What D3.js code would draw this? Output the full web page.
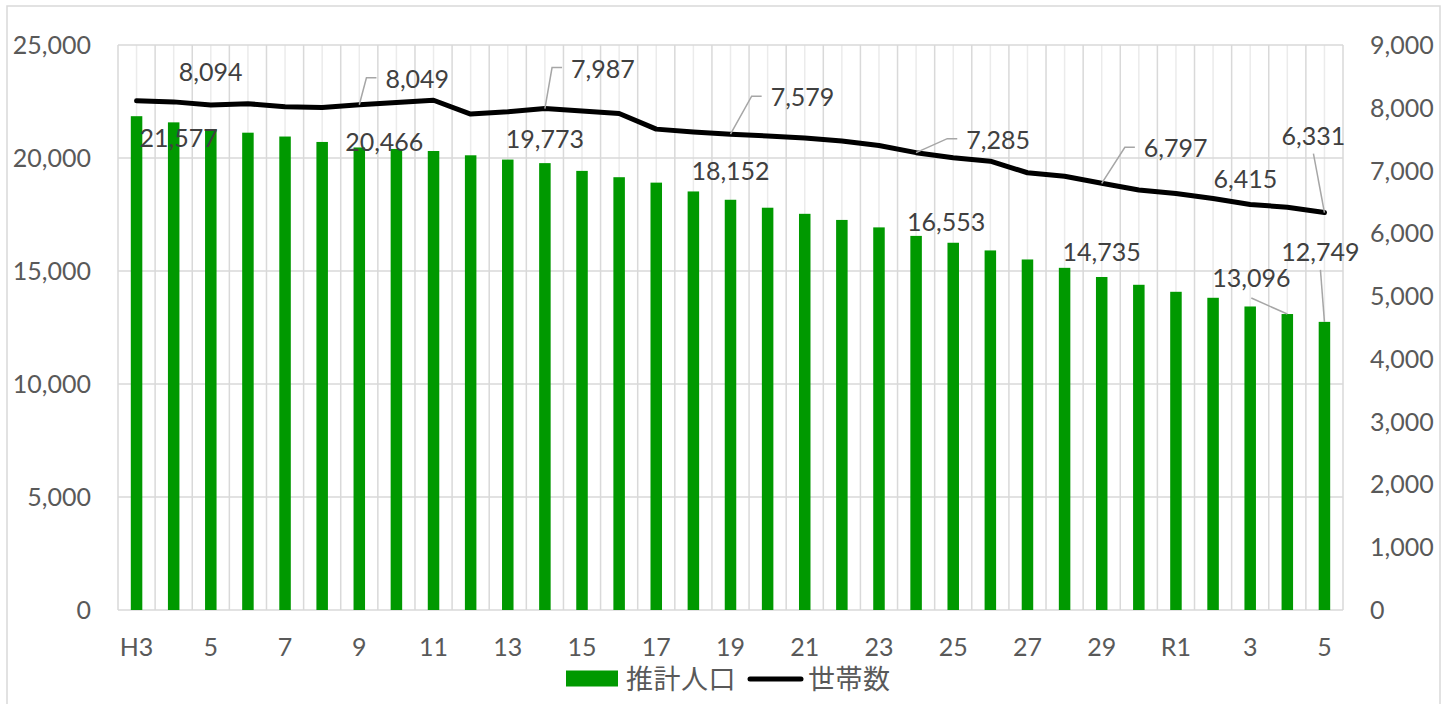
<!DOCTYPE html>
<html><head><meta charset="utf-8">
<script src="https://cdn.jsdelivr.net/npm/d3@7"></script>
<style>
html,body{margin:0;padding:0;background:#fff;}
svg{display:block;}
</style></head>
<body>
<svg id="chart" width="1456" height="704"></svg>
<script>
// ---- data ----
const categories = ["H3","4","5","6","7","8","9","10","11","12","13","14","15","16","17","18","19","20","21","22","23","24","25","26","27","28","29","30","R1","2","3","4","5"];
const population = [21850,21577,21270,21120,20950,20710,20466,20400,20310,20120,19930,19773,19430,19150,18910,18520,18152,17800,17530,17260,16930,16553,16250,15910,15510,15140,14735,14390,14080,13815,13430,13096,12749];
const households = [8110,8094,8045,8065,8015,8005,8049,8085,8120,7900,7935,7987,7950,7910,7660,7615,7579,7550,7520,7470,7400,7285,7205,7150,6965,6910,6797,6690,6635,6555,6460,6415,6331];
const leftTicks = [0,5000,10000,15000,20000,25000];
const rightTicks = [0,1000,2000,3000,4000,5000,6000,7000,8000,9000];
const seriesNames = ["推計人口","世帯数"];

// label layout: [index, dx, dy, leaderType]
const popLabels = [[1,5,16],[6,25,-5],[11,0,-24],[16,0,-29],[21,30,-14],[26,0,-25],[31,-36,-36,"diag"],[32,-4,-70,"vert"]];
const hhLabels = [[1,37,-30],[6,58,-26,"elbow"],[11,58,-40,"elbow"],[16,72,-37,"elbow"],[21,82,-13,"elbow"],[26,74,-35,"elbow"],[31,-42,-28],[32,-11,-77,"vert"]];

// ---- layout ----
const svg = d3.select("#chart");
const plot = {left:118, right:1343, top:45, bottom:610};
const numFont = "Lato, 'Open Sans', sans-serif";
const cjkFont = "'Noto Sans CJK JP', 'Noto Sans CJK SC', sans-serif";
const idx = d3.range(categories.length);

svg.append("rect").attr("x",7).attr("y",6).attr("width",1433).attr("height",710)
  .attr("fill","#fff").attr("stroke","#d9d9d9").attr("stroke-width",1.5);

const x = d3.scaleBand().domain(idx).range([plot.left, plot.right])
  .paddingInner(0.69).paddingOuter(0.345);
const xc = i => x(i) + x.bandwidth()/2;
const step = x.step();
const yL = d3.scaleLinear().domain([0,25000]).range([plot.bottom, plot.top]);
const yR = d3.scaleLinear().domain([0,9000]).range([plot.bottom, plot.top]);
const fmt = d3.format(",");

// minor vertical gridlines (category centers)
svg.append("g").selectAll("line").data(idx).join("line")
  .attr("x1", d=>xc(d)).attr("x2", d=>xc(d)).attr("y1", plot.top).attr("y2", plot.bottom)
  .attr("stroke","#ebebeb").attr("stroke-width",1.5);
// major vertical gridlines (category boundaries)
const bounds = idx.map(i=>xc(i) - step/2).concat([plot.right]);
svg.append("g").selectAll("line").data(bounds).join("line")
  .attr("x1", d=>d).attr("x2", d=>d).attr("y1", plot.top).attr("y2", plot.bottom)
  .attr("stroke","#d9d9d9").attr("stroke-width",1.5);
// horizontal gridlines
svg.append("g").selectAll("line").data(leftTicks).join("line")
  .attr("x1", plot.left).attr("x2", plot.right).attr("y1", d=>yL(d)).attr("y2", d=>yL(d))
  .attr("stroke","#d9d9d9").attr("stroke-width",1.5);

// left axis labels
svg.append("g").selectAll("text").data(leftTicks).join("text")
  .attr("x", 91).attr("y", d=>yL(d)).attr("dy","0.36em").attr("text-anchor","end")
  .attr("font-family", numFont).attr("font-size",25).attr("fill","#595959").text(d=>fmt(d));
// right axis labels
svg.append("g").selectAll("text").data(rightTicks).join("text")
  .attr("x", 1370).attr("y", d=>yR(d)).attr("dy","0.36em").attr("text-anchor","start")
  .attr("font-family", numFont).attr("font-size",25).attr("fill","#595959").text(d=>fmt(d));
// x axis labels (every other category)
const xLabelIdx = idx.filter(i=>i%2===0);
svg.append("g").selectAll("text").data(xLabelIdx).join("text")
  .attr("x", d=>xc(d)).attr("y", 647).attr("dy","0.36em").attr("text-anchor","middle")
  .attr("font-family", numFont).attr("font-size",25).attr("fill","#595959")
  .text(d=>categories[d]);

// bars
svg.append("g").selectAll("rect").data(idx).join("rect")
  .attr("x", d=>x(d)).attr("width", x.bandwidth())
  .attr("y", d=>yL(population[d])).attr("height", d=>yL(0)-yL(population[d]))
  .attr("fill","#009900");

// line
const line = d3.line().x((d,i)=>xc(i)).y(d=>yR(d));
svg.append("path").datum(households).attr("d", line)
  .attr("fill","none").attr("stroke","#000").attr("stroke-width",5)
  .attr("stroke-linejoin","round").attr("stroke-linecap","round");

// data labels + leaders
function drawLabels(specs, values, yScale){
  const g = svg.append("g");
  specs.forEach(([i,dx,dy,lt])=>{
    const ax = xc(i), ay = yScale(values[i]);
    const lx = ax+dx, ly = ay+dy;
    const t = g.append("text").attr("x",lx).attr("y",ly).attr("dy","0.36em")
      .attr("text-anchor","middle").attr("font-family",numFont).attr("font-size",25)
      .attr("fill","#404040").text(fmt(values[i]));
    const w = t.node().getComputedTextLength();
    let pts = null;
    if(lt==="elbow"){
      const left = lx - w/2 - 9;
      pts = [[ax,ay],[left-10,ly-1],[left,ly-1]];
    } else if(lt==="vert"){
      pts = [[ax,ay],[lx,ly+18]];
    } else if(lt==="diag"){
      pts = [[ax,ay],[lx,ly+20]];
    }
    if(pts){
      g.append("path").attr("d", d3.line()(pts)).attr("fill","none")
        .attr("stroke","#a6a6a6").attr("stroke-width",1.5);
    }
  });
}
drawLabels(popLabels, population, yL);
drawLabels(hhLabels, households, yR);

// legend
const lg = svg.append("g");
lg.append("rect").attr("x",566).attr("y",670.5).attr("width",52).attr("height",16).attr("fill","#009900");
lg.append("text").attr("x",626).attr("y",679).attr("dy","0.36em").attr("font-family",cjkFont)
  .attr("font-size",27).attr("letter-spacing",0.5).attr("fill","#595959").text(seriesNames[0]);
lg.append("line").attr("x1",750).attr("x2",801).attr("y1",679).attr("y2",679)
  .attr("stroke","#000").attr("stroke-width",5).attr("stroke-linecap","round");
lg.append("text").attr("x",808).attr("y",679).attr("dy","0.36em").attr("font-family",cjkFont)
  .attr("font-size",27).attr("letter-spacing",0.5).attr("fill","#595959").text(seriesNames[1]);
</script>
</body></html>
